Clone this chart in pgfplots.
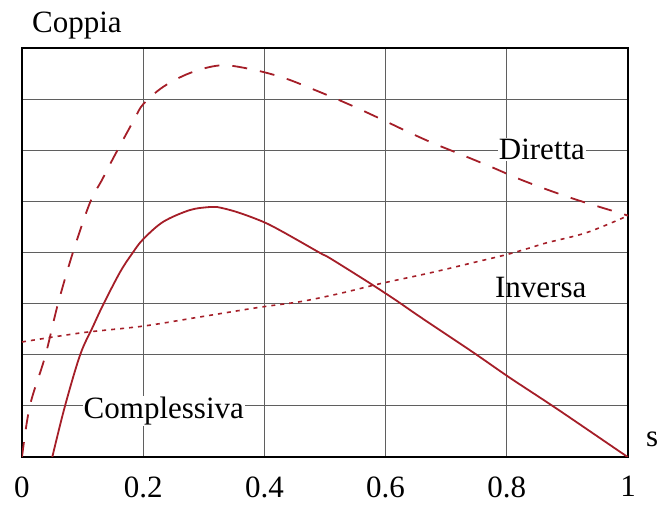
\documentclass[border=0pt]{standalone}
\usepackage{fontspec}
\setmainfont{Liberation Serif}
\usepackage{pgfplots}
\pgfplotsset{compat=1.18}
\definecolor{curve}{RGB}{165,30,40}
\definecolor{gridc}{RGB}{95,95,95}
\begin{document}
\fontsize{31}{36}\selectfont
\begin{tikzpicture}
\begin{axis}[
  scale only axis, width=606pt, height=409pt,
  xmin=0, xmax=1, ymin=0, ymax=8,
  xtick={0,0.2,0.4,0.6,0.8,1},
  xticklabels={0,0.2,0.4,0.6,0.8,1},
  ytick={0,1,2,3,4,5,6,7,8},
  yticklabels={},
  grid=major,
  grid style={gridc, line width=1pt},
  major tick length=0pt,
  axis line style={black, line width=1.5pt},
  xticklabel style={font=\fontsize{31}{36}\selectfont, yshift=-9pt},
  clip mode=individual,
]
\addplot[curve, line width=1.8pt, dash pattern=on 15pt off 13pt, smooth, tension=0.55] coordinates {
(0,0) (0.013,1.0) (0.038,1.96) (0.059,2.98) (0.084,4.0) (0.112,4.97) (0.132,5.42)
(0.153,5.9) (0.186,6.62) (0.2,6.9) (0.233,7.24) (0.277,7.51) (0.327,7.66) (0.376,7.59)
(0.431,7.42) (0.483,7.18) (0.541,6.89) (0.596,6.59) (0.635,6.37) (0.678,6.14) (0.728,5.9)
(0.777,5.66) (0.822,5.43) (0.876,5.19) (0.926,4.99) (0.987,4.77) (1,4.72)
};
\addplot[curve, line width=1.6pt, dash pattern=on 4pt off 5pt, smooth, tension=0.55] coordinates {
(0,2.25) (0.099,2.43) (0.2,2.56) (0.294,2.74) (0.393,2.93) (0.46,3.04) (0.525,3.2)
(0.591,3.39) (0.673,3.6) (0.744,3.8) (0.8,3.96) (0.838,4.09) (0.866,4.19) (0.932,4.39) (1,4.72)
};
\addplot[curve, line width=1.8pt, smooth, tension=0.55] coordinates {
(0.05,0) (0.071,1.0) (0.096,2.0) (0.117,2.55) (0.134,2.98) (0.162,3.62) (0.183,4.0)
(0.2,4.26) (0.233,4.6) (0.277,4.83) (0.31,4.89) (0.322,4.89) (0.355,4.79) (0.398,4.6)
(0.431,4.4) (0.492,3.99) (0.508,3.89) (0.574,3.4) (0.619,3.05) (0.657,2.74) (0.744,2.05)
(0.805,1.55) (0.883,0.94) (0.992,0.06) (1,0)
};
\node[fill=white, inner sep=1pt, anchor=base] at (axis cs:0.858,5.81) {Diretta};
\node[inner sep=1pt, anchor=base] at (axis cs:0.856,3.11) {Inversa};
\node[fill=white, inner sep=1pt, anchor=base] at (axis cs:0.234,0.76) {Complessiva};
\coordinate (sw) at (rel axis cs:0,0);
\coordinate (ne) at (rel axis cs:1,1);
\coordinate (nw) at (rel axis cs:0,1);
\coordinate (se) at (rel axis cs:1,0);
\end{axis}
\node[anchor=base west, inner sep=0pt] at ([xshift=10pt,yshift=15pt]nw) {Coppia};
\node[anchor=base west, inner sep=0pt] at ([xshift=18pt,yshift=10pt]se) {s};
\pgfresetboundingbox
\path ([xshift=-22pt,yshift=-48pt]sw) rectangle ([xshift=31pt,yshift=48pt]ne);
\end{tikzpicture}
\end{document}
